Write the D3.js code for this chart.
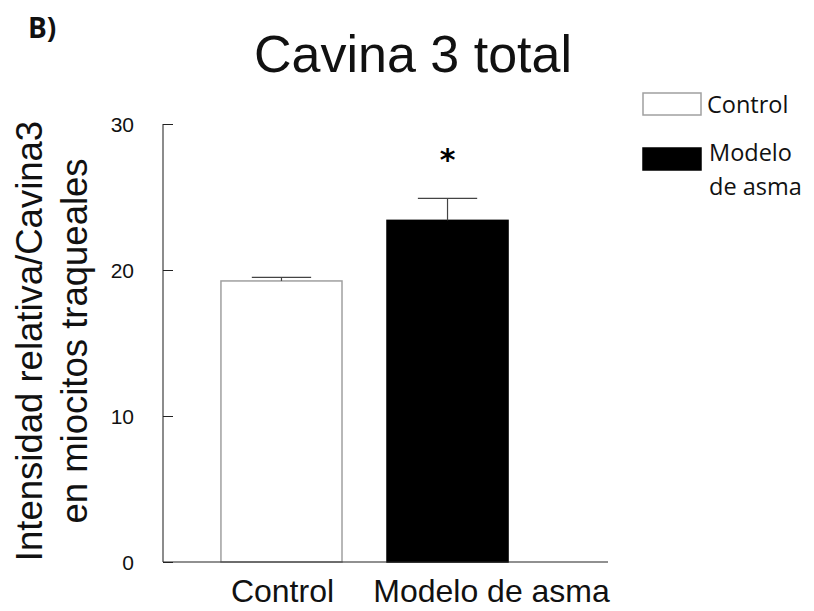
<!DOCTYPE html>
<html><head><meta charset="utf-8">
<script src="https://cdn.jsdelivr.net/npm/d3@7/dist/d3.min.js"></script>
<style>body{margin:0;background:#fff}svg{display:block}</style>
</head><body>
<svg id="c" width="814" height="611"></svg>
<script>
const categories = ["Control", "Modelo de asma"];
const values = [19.25, 23.4];
const errors = [0.25, 1.5];
const yTicks = [0, 10, 20, 30];
const legendLabels = [["Control"], ["Modelo", "de asma"]];

const svg = d3.select("#c");
const fills = ["#ffffff", "#000000"];
const strokes = ["#a0a0a0", "#000000"];

const y = d3.scaleLinear().domain([0, 30]).range([562, 124]);
const x = d3.scaleBand().domain(categories).range([163, 566]).paddingInner(0.271).paddingOuter(0.349);

// bars
svg.selectAll("rect.bar").data(categories).enter().append("rect")
  .attr("x", d => x(d)).attr("width", x.bandwidth())
  .attr("y", (d, i) => y(values[i])).attr("height", (d, i) => y(0) - y(values[i]))
  .attr("fill", (d, i) => fills[i]).attr("stroke", (d, i) => strokes[i]).attr("stroke-width", 1.5);

// error bars
categories.forEach((c, i) => {
  const cx = x(c) + x.bandwidth() / 2;
  const capW = x.bandwidth() * 0.49;
  svg.append("line").attr("x1", cx).attr("x2", cx).attr("y1", y(values[i])).attr("y2", y(values[i] + errors[i]))
    .attr("stroke", "#444").attr("stroke-width", 1.2);
  svg.append("line").attr("x1", cx - capW / 2).attr("x2", cx + capW / 2)
    .attr("y1", y(values[i] + errors[i])).attr("y2", y(values[i] + errors[i]))
    .attr("stroke", "#444").attr("stroke-width", 1.2);
});

// asterisk
svg.append("text").attr("x", x(categories[1]) + x.bandwidth() / 2).attr("y", 170)
  .attr("text-anchor", "middle").attr("font-family", "DejaVu Sans").attr("font-weight", "bold")
  .attr("font-size", 30).text("*");

// y axis
const yAxis = d3.axisLeft(y).tickValues(yTicks).tickSize(-10);
const gy = svg.append("g").attr("transform", "translate(163,0)").call(yAxis);
gy.select(".domain").attr("stroke", "#666").attr("stroke-width", 1.5).attr("d", "M0,124V562");
gy.selectAll(".tick line").attr("stroke", "#222");
gy.selectAll(".tick text").attr("font-family", "Liberation Sans, Arial").attr("font-size", 21).attr("fill", "#111")
  .attr("dy", "0.35em").attr("text-anchor", "end").attr("x", -29);

// x axis line
svg.append("line").attr("x1", 163).attr("x2", 608).attr("y1", 562).attr("y2", 562)
  .attr("stroke", "#222").attr("stroke-width", 1.2);

// x labels
svg.selectAll("text.xl").data(categories).enter().append("text")
  .attr("x", d => x(d) + x.bandwidth() / 2 + (d === "Control" ? 1 : 44)).attr("y", 602)
  .attr("text-anchor", "middle").attr("font-family", "Liberation Sans, Arial").attr("font-size", 32).attr("fill", "#111")
  .text(d => d);

// title
svg.append("text").attr("x", 413).attr("y", 72).attr("text-anchor", "middle")
  .attr("font-family", "Liberation Sans, Arial").attr("font-size", 52).attr("fill", "#111").text("Cavina 3 total");

// panel label
svg.append("text").attr("x", 28).attr("y", 38).attr("font-family", "Open Sans, Lato").attr("font-weight", "bold")
  .attr("font-size", 28).attr("fill", "#111").text("B)");

// y label
const yl = svg.append("text").attr("transform", "translate(0,341) rotate(-90)")
  .attr("text-anchor", "middle").attr("font-family", "Liberation Sans, Arial").attr("font-size", 36.5).attr("fill", "#111");
yl.append("tspan").attr("x", 0).attr("y", 42).text("Intensidad relativa/Cavina3");
yl.append("tspan").attr("x", 0).attr("y", 87).text("en miocitos traqueales");

// legend
const ly = [93, 148];
legendLabels.forEach((lab, i) => {
  svg.append("rect").attr("x", 643).attr("y", ly[i]).attr("width", 58).attr("height", 22)
    .attr("fill", fills[i]).attr("stroke", strokes[i]).attr("stroke-width", 1.5);
  lab.forEach((t, j) => {
    svg.append("text").attr("x", 707 + (i === 1 ? 2 : 0)).attr("y", (i === 0 ? 113 : 161) + j * 34)
      .attr("font-family", "Open Sans, Lato").attr("font-size", 23.5).attr("fill", "#111").text(t);
  });
});
</script>
</body></html>
